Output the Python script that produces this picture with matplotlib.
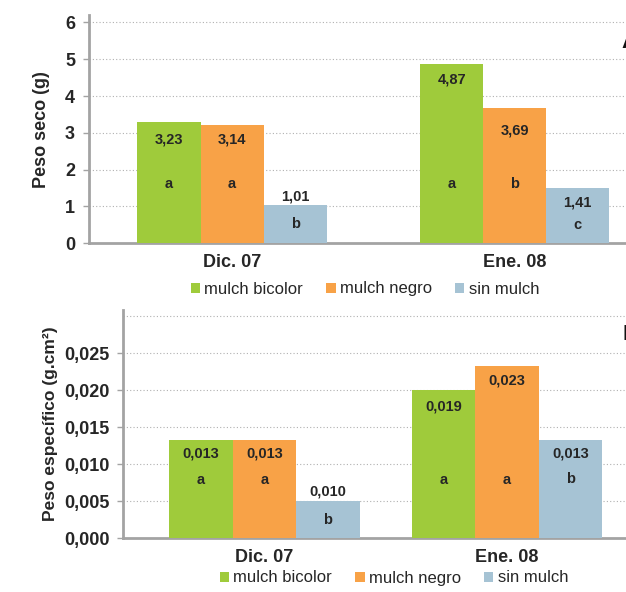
import matplotlib.pyplot as plt
import numpy as np

plt.rcParams['font.family'] = ['Liberation Sans', 'DejaVu Sans']

periods = ['Dic. 07', 'Ene. 08']
treatments = ['mulch bicolor', 'mulch negro', 'sin mulch']
colors = ['#9fcb3b', '#f8a247', '#a6c3d4']

# panel A: peso seco (g), bar heights as drawn
seco = {'mulch bicolor': [3.30, 4.86],
        'mulch negro': [3.21, 3.67],
        'sin mulch': [1.04, 1.51]}
seco_txt = {'mulch bicolor': ['3,23', '4,87'],
            'mulch negro': ['3,14', '3,69'],
            'sin mulch': ['1,01', '1,41']}
seco_let = {'mulch bicolor': ['a', 'a'],
            'mulch negro': ['a', 'b'],
            'sin mulch': ['b', 'c']}

# panel B: peso especifico (g.cm2), bar heights as drawn
espec = {'mulch bicolor': [0.0133, 0.0200],
         'mulch negro': [0.0133, 0.0233],
         'sin mulch': [0.0050, 0.0133]}
espec_txt = {'mulch bicolor': ['0,013', '0,019'],
             'mulch negro': ['0,013', '0,023'],
             'sin mulch': ['0,010', '0,013']}
espec_let = {'mulch bicolor': ['a', 'a'],
             'mulch negro': ['a', 'a'],
             'sin mulch': ['b', 'b']}

# text positions (layout)
seco_txt_y = {'mulch bicolor': [2.81, 4.44], 'mulch negro': [2.81, 3.05], 'sin mulch': [1.26, 1.10]}
seco_let_y = {'mulch bicolor': [1.61, 1.61], 'mulch negro': [1.61, 1.61], 'sin mulch': [0.52, 0.50]}
espec_txt_y = {'mulch bicolor': [0.0114, 0.0178], 'mulch negro': [0.0114, 0.0213], 'sin mulch': [0.0063, 0.0115]}
espec_let_y = {'mulch bicolor': [0.0079, 0.0079], 'mulch negro': [0.0079, 0.0079], 'sin mulch': [0.0025, 0.0080]}

fig = plt.figure(figsize=(6.26, 5.92), dpi=100)
W, H = 626, 592
axA = fig.add_axes([89 / W, (H - 243.3) / H, 565.4 / W, 228.3 / H])
axB = fig.add_axes([123.3 / W, (H - 538.3) / H, 524.3 / W, 228.3 / H])

grey = '#a3a3a3'
txtc = '#262626'


def draw(ax, vals, txts, lets, txt_y, let_y, width):
    x = np.arange(len(periods))
    handles = []
    for i, t in enumerate(treatments):
        xs = x + (i - 1) * width
        h = ax.bar(xs, vals[t], width, color=colors[i], label=t, zorder=3)
        handles.append(h)
        for j in range(len(periods)):
            ax.text(xs[j], txt_y[t][j], txts[t][j], ha='center', va='center',
                    fontsize=10.5, fontweight='bold', color=txtc, zorder=4)
            ax.text(xs[j], let_y[t][j], lets[t][j], ha='center', va='center',
                    fontsize=10.5, fontweight='bold', color=txtc, zorder=4)
    ax.set_xticks(x)
    ax.set_xticklabels(periods, fontsize=13, fontweight='bold', color=txtc)
    ax.tick_params(axis='x', length=0, pad=8)
    ax.tick_params(axis='y', length=4, width=1, color=grey, labelsize=13,
                   labelcolor=txtc, pad=6)
    for lab in ax.get_yticklabels():
        lab.set_fontweight('bold')
    for s in ['top', 'right']:
        ax.spines[s].set_visible(False)
    for s in ['left', 'bottom']:
        ax.spines[s].set_color(grey)
        ax.spines[s].set_linewidth(2)
    ax.set_facecolor('none')
    return handles


axA.set_ylim(0, 6.2)
axA.set_xlim(-0.506, 1.494)
axA.set_yticks(np.arange(0, 7, 1))
axA.set_yticklabels([str(v) for v in range(7)])
for v in range(1, 7):
    axA.axhline(v, color='#b0b0b0', lw=0.8, ls=(0, (1, 2)), zorder=1)
hA = draw(axA, seco, seco_txt, seco_let, seco_txt_y, seco_let_y, 0.223)
axA.set_ylabel('Peso seco (g)', fontsize=13, fontweight='bold', color=txtc)
axA.yaxis.set_label_coords(-0.069, 0.5)

axB.set_ylim(0, 0.03085)
axB.set_xlim(-0.582, 1.58)
ticksB = [0.0, 0.005, 0.010, 0.015, 0.020, 0.025]
axB.set_yticks(ticksB)
axB.set_yticklabels([f'{v:.3f}'.replace('.', ',') for v in ticksB])
for v in ticksB[1:] + [0.030]:
    axB.axhline(v, color='#b0b0b0', lw=0.8, ls=(0, (1, 2)), zorder=1)
hB = draw(axB, espec, espec_txt, espec_let, espec_txt_y, espec_let_y, 0.262)
axB.set_ylabel('Peso específico (g.cm²)', fontsize=12.5, fontweight='bold', color=txtc)
axB.yaxis.set_label_coords(-0.124, 0.5)

legkw = dict(ncol=3, frameon=False, fontsize=12, handlelength=0.55, handleheight=0.55,
             handletextpad=0.25, columnspacing=1.4, borderaxespad=0, borderpad=0)
legA = fig.legend(handles=hA, labels=treatments, loc='center',
                  bbox_to_anchor=(365 / W, (H - 289) / H), **legkw)
legB = fig.legend(handles=hB, labels=treatments, loc='center',
                  bbox_to_anchor=(394 / W, (H - 578) / H), **legkw)
for leg in (legA, legB):
    for t in leg.get_texts():
        t.set_color(txtc)

# panel letters, partly cut by the right edge as in the source figure
fig.text(621 / W, (H - 42) / H, 'A', fontsize=16, fontweight='bold', color='#111111',
         ha='left', va='center')
fig.text(622 / W, (H - 335) / H, 'B', fontsize=16, fontweight='bold', color='#111111',
         ha='left', va='center')

fig.savefig('out.png', dpi=100, facecolor='white')
